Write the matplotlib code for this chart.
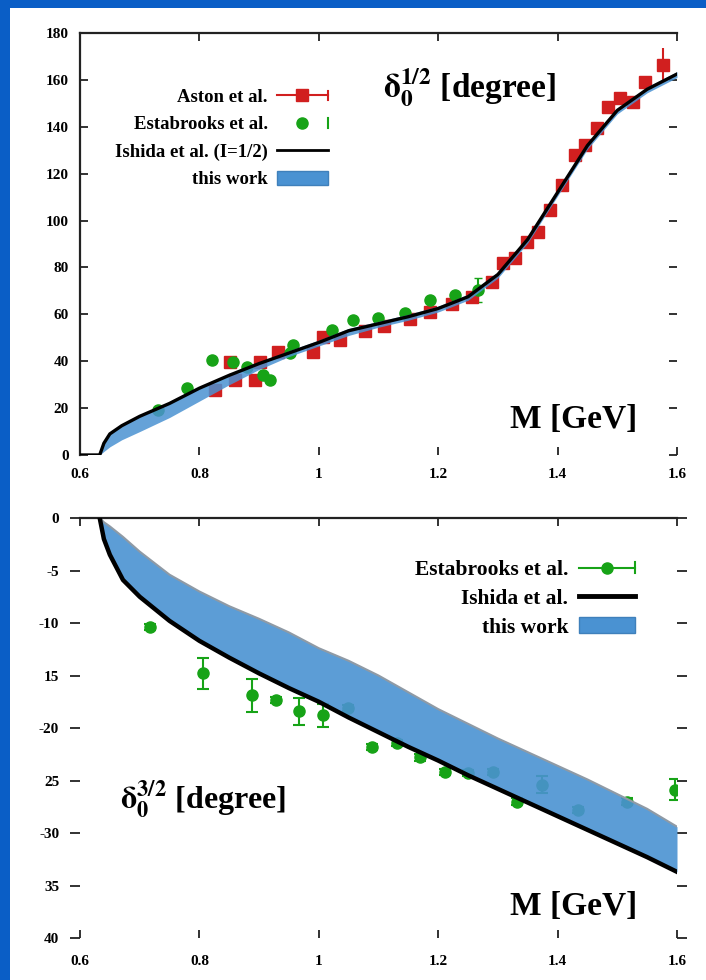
import numpy as np
import matplotlib
matplotlib.use("Agg")
import matplotlib.pyplot as plt
from matplotlib.lines import Line2D
from matplotlib.patches import Rectangle, Patch
from matplotlib.legend_handler import HandlerLine2D

plt.rcParams['font.family'] = ['Liberation Serif', 'DejaVu Serif']
plt.rcParams['font.weight'] = 'bold'
plt.rcParams['mathtext.fontset'] = 'stix'

# ---- I = 1/2 phase shift ----
m_grid = [0.60, 0.633, 0.64, 0.65, 0.67, 0.70, 0.75, 0.80, 0.85, 0.90, 0.95, 1.00, 1.05,
          1.10, 1.15, 1.20, 1.25, 1.30, 1.35, 1.40, 1.45, 1.50, 1.55, 1.60]
ishida_12 = [0, 0, 5, 9, 12.5, 16.5, 22, 28.5, 34, 39, 43.5, 48, 53,
             56, 59, 62.5, 67.5, 77, 92, 112, 132, 147, 156, 162.5]
band_12_lo = [0, 0, 1.5, 3.5, 6.5, 10, 16, 23, 30, 36.5, 42, 46.5, 51,
              54.5, 57.5, 61, 66, 75.5, 90.5, 110.5, 130.5, 145.5, 154.5, 161]
band_12_hi = [0, 0, 5.5, 9.5, 13, 17, 22.5, 29, 34.5, 39.5, 44.5, 49, 54,
              57, 60, 63.5, 68.5, 78, 93, 113, 133, 148, 157, 163.5]

aston_m = [0.826, 0.851, 0.860, 0.893, 0.901, 0.932, 0.990, 1.007, 1.035, 1.077, 1.110,
           1.153, 1.186, 1.223, 1.257, 1.290, 1.309, 1.329, 1.349, 1.367, 1.387, 1.407,
           1.429, 1.446, 1.466, 1.484, 1.505, 1.526, 1.546, 1.577]
aston_d = [27.7, 39.7, 32.0, 32.0, 39.7, 43.9, 43.9, 50.3, 49.1, 53.0, 55.0,
           58.0, 61.0, 64.5, 67.5, 74.0, 81.9, 84.0, 90.9, 95.1, 104.5, 115.2,
           128.0, 132.3, 139.5, 148.5, 152.3, 150.6, 159.1, 166.4]
aston_err = [1.5] * 29 + [7.0]

estab12_m = [0.731, 0.779, 0.821, 0.856, 0.880, 0.907, 0.918, 0.952, 0.957, 1.022,
             1.057, 1.099, 1.144, 1.186, 1.228, 1.267]
estab12_d = [19.2, 28.6, 40.5, 39.7, 37.5, 34.1, 32.0, 43.5, 46.9, 53.3,
             57.6, 58.4, 60.6, 66.1, 68.3, 70.4]
estab12_err = [1.0] * 15 + [5.0]

# ---- I = 3/2 phase shift ----
m_grid32 = [0.633, 0.64, 0.65, 0.672, 0.70, 0.75, 0.80, 0.85, 0.90, 0.95, 1.00, 1.05,
            1.10, 1.15, 1.20, 1.25, 1.30, 1.35, 1.40, 1.45, 1.50, 1.55, 1.60]
ishida_32 = [0, -2.0, -3.5, -5.9, -7.5, -9.8, -11.7, -13.3, -14.8, -16.2, -17.5, -19.0,
             -20.4, -21.8, -23.1, -24.5, -25.8, -27.1, -28.4, -29.7, -31.0, -32.3, -33.7]
band_32_hi = [0, -0.4, -0.8, -1.8, -3.2, -5.4, -7.0, -8.4, -9.6, -10.9, -12.4, -13.6,
              -15.0, -16.6, -18.2, -19.6, -21.0, -22.3, -23.6, -24.9, -26.3, -27.7, -29.4]

estab32_m = [0.717, 0.806, 0.888, 0.928, 0.967, 1.007, 1.049, 1.089, 1.131, 1.170,
             1.211, 1.250, 1.292, 1.332, 1.374, 1.434, 1.516, 1.597]
estab32_d = [-10.4, -14.8, -16.9, -17.3, -18.4, -18.8, -18.1, -21.8, -21.4, -22.8,
             -24.2, -24.3, -24.2, -27.0, -25.4, -27.8, -27.0, -25.9]
estab32_err = [0.3, 1.5, 1.6, 0.3, 1.3, 1.1, 0.3, 0.3, 0.3, 0.3,
               0.3, 0.3, 0.3, 0.3, 0.8, 0.3, 0.3, 1.0]

x_ticks = [0.6, 0.8, 1.0, 1.2, 1.4, 1.6]
x_ticklabels = ['0.6', '0.8', '1', '1.2', '1.4', '1.6']
y_ticks_12 = list(range(0, 181, 20))
y_ticks_32 = [0, -5, -10, -15, -20, -25, -30, -35, -40]
y_ticklabels_32 = ['0', '-5', '-10', '15', '-20', '25', '-30', '35', '40']

RED = '#d11f1f'
GREEN = '#17a317'
BAND = '#4a92d2'


class CapLineHandler(HandlerLine2D):
    """line + centre marker + a small cap on the right end (gnuplot style)"""
    def create_artists(self, legend, orig_handle, xdescent, ydescent,
                       width, height, fontsize, trans):
        arts = super().create_artists(legend, orig_handle, xdescent, ydescent,
                                      width, height, fontsize, trans)
        x = -xdescent + width
        yc = (height - ydescent) / 2
        cap = Line2D([x, x], [yc - 0.35 * height, yc + 0.35 * height],
                     color=orig_handle.get_color(), lw=1.5, transform=trans)
        return list(arts) + [cap]


fig = plt.figure(figsize=(7.06, 9.8), dpi=100)
fig.patch.set_facecolor('#0a5ec6')
fig.add_artist(Rectangle((10 / 706, 0), 1, 1 - 8 / 980, transform=fig.transFigure,
                         facecolor='white', edgecolor='none', zorder=0))

ax1 = fig.add_axes([80 / 706, 1 - 455 / 980, 597 / 706, 422 / 980])
ax2 = fig.add_axes([80 / 706, 1 - 938 / 980, 597 / 706, 420 / 980])

for ax in (ax1, ax2):
    ax.set_facecolor('none')
    ax.set_xlim(0.6, 1.6)
    ax.set_xticks(x_ticks)
    ax.set_xticklabels(x_ticklabels)
    for s in ax.spines.values():
        s.set_linewidth(1.6)
        s.set_color('#222222')
    ax.spines['right'].set_visible(False)
    ax.spines['bottom'].set_visible(False)
    ax.tick_params(direction='in', length=6, width=1.3, top=True, right=True,
                   labelsize=11, color='#222222')

# upper panel
ax1.set_ylim(0, 180)
ax1.set_yticks(y_ticks_12)
ax1.tick_params(axis='x', pad=9)
ax1.tick_params(axis='y', pad=8)

ax1.errorbar(aston_m, aston_d, yerr=aston_err, fmt='s', color=RED, ms=8,
             elinewidth=1.5, capsize=0, zorder=3)
ax1.errorbar(estab12_m, estab12_d, yerr=estab12_err, fmt='o', color=GREEN, ms=8,
             elinewidth=1.5, capsize=3, zorder=3)
ax1.fill_between(m_grid, band_12_lo, band_12_hi, color=BAND, alpha=0.85, lw=0, zorder=4)
ax1.plot(m_grid, ishida_12, color='black', lw=2.4, zorder=5)

h_aston = Line2D([], [], color=RED, marker='s', ms=8, lw=1.5)
h_est = Line2D([], [], color=GREEN, marker='o', ms=8, lw=0)
h_ish = Line2D([], [], color='black', lw=2)
h_band = Patch(facecolor=BAND, edgecolor='#3f80bb')
ax1.legend([h_aston, h_est, h_ish, h_band],
           ['Aston et al.', 'Estabrooks et al.', 'Ishida et al. (I=1/2)', 'this work'],
           loc='upper right', bbox_to_anchor=(0.415, 0.868), markerfirst=False,
           frameon=False, fontsize=13.5, handlelength=2.7, handleheight=0.75,
           labelspacing=0.53, handletextpad=0.5, borderpad=0, borderaxespad=0,
           numpoints=1,
           handler_map={h_aston: CapLineHandler(), h_est: CapLineHandler()})

ax1.text(0.5075, 0.87, r'$\mathrm{\delta}_0^{\mathbf{1/2}}$ [degree]',
         transform=ax1.transAxes, fontsize=24, ha='left', va='center')
ax1.text(0.72, 0.083, 'M [GeV]', transform=ax1.transAxes, fontsize=24,
         ha='left', va='center')

# lower panel
ax2.set_ylim(-40, 0)
ax2.set_yticks(y_ticks_32)
ax2.set_yticklabels(y_ticklabels_32)
ax2.spines['left'].set_visible(False)
ax2.tick_params(axis='x', pad=12)
ax2.tick_params(axis='y', which='both', left=True, direction='out', length=7, pad=8)

ax2.errorbar(estab32_m, estab32_d, yerr=estab32_err, fmt='o', color=GREEN, ms=8,
             elinewidth=1.5, capsize=4, capthick=1.5, zorder=3)
ax2.fill_between(m_grid32, ishida_32, band_32_hi, color=BAND, alpha=0.9, lw=0, zorder=4)
ax2.plot(m_grid32, band_32_hi, color='#8f9aa5', lw=1.5, zorder=4)
ax2.plot(m_grid32, ishida_32, color='black', lw=3.2, zorder=5)

h_est2 = Line2D([], [], color=GREEN, marker='o', ms=8, lw=1.5)
h_ish2 = Line2D([], [], color='black', lw=3.5)
h_band2 = Patch(facecolor=BAND, edgecolor='#3f80bb')
ax2.legend([h_est2, h_ish2, h_band2], ['Estabrooks et al.', 'Ishida et al.', 'this work'],
           loc='upper right', bbox_to_anchor=(0.93, 0.900), markerfirst=False,
           frameon=False, fontsize=15.5, handlelength=2.6, handleheight=0.75,
           labelspacing=0.38, handletextpad=0.5, borderpad=0, borderaxespad=0,
           numpoints=1, handler_map={h_est2: CapLineHandler()})

ax2.text(0.067, 0.329, r'$\mathrm{\delta}_0^{\mathbf{3/2}}$ [degree]',
         transform=ax2.transAxes, fontsize=23, ha='left', va='center')
ax2.text(0.72, 0.074, 'M [GeV]', transform=ax2.transAxes, fontsize=24,
         ha='left', va='center')

fig.savefig('out.png', dpi=100, facecolor=fig.get_facecolor())
